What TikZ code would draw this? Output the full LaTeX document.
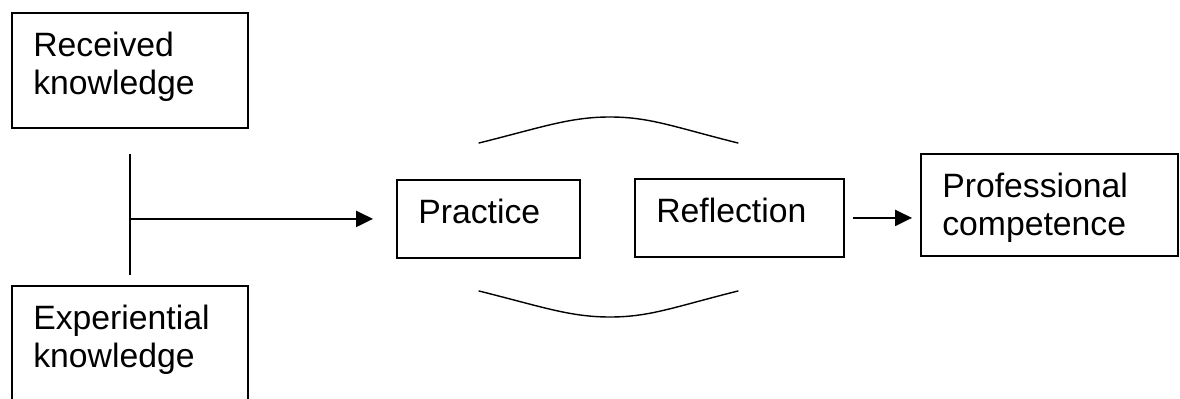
\documentclass[tikz,border=0pt]{standalone}
\usepackage{fontspec}
\setmainfont{Liberation Sans}
\usetikzlibrary{arrows.meta}

\begin{document}
\begin{tikzpicture}[line join=miter,
  box/.style={draw, line width=1.3pt, anchor=north west, inner sep=0pt},
  txt/.style={anchor=north west, align=left, inner sep=0pt, font=\fontsize{24pt}{27pt}\selectfont},
  arr/.style={line width=1.2pt, -{Triangle[length=0.42cm,width=0.4cm]}},
  bow/.style={line width=1pt, line cap=round}]
  \useasboundingbox (0,0) rectangle (29.5,9.95);
  \clip (0,0) rectangle (29.5,9.95);
  % boxes
  \node[box, minimum width=5.9cm, minimum height=2.875cm] (rk) at (0.275,9.65) {};
  \node[box, minimum width=5.9cm, minimum height=2.875cm] (ek) at (0.275,2.825) {};
  \node[box, minimum width=4.575cm, minimum height=1.95cm] (prac) at (9.9,5.475) {};
  \node[box, minimum width=5.225cm, minimum height=1.95cm] (refl) at (15.85,5.5) {};
  \node[box, minimum width=6.425cm, minimum height=2.55cm] (prof) at (23.0,6.125) {};
  % texts
  \node[txt] (rk-t) at ([shift={(0.55,-0.49)}]rk.north west) {Received\\knowledge};
  \node[txt] (ek-t) at ([shift={(0.55,-0.49)}]ek.north west) {Experiential\\knowledge};
  \node[txt] (prac-t) at ([shift={(0.55,-0.49)}]prac.north west) {Practice};
  \node[txt] (refl-t) at ([shift={(0.55,-0.49)}]refl.north west) {Reflection};
  \node[txt] (prof-t) at ([shift={(0.55,-0.49)}]prof.north west) {Professional\\competence};
  % connectors
  \coordinate (join) at (rk.south |- prac.west);
  \draw[line width=1.2pt] ([yshift=-0.625cm]rk.south) -- ([yshift=0.25cm]ek.north);
  \draw[arr] (join) -- ([xshift=-0.575cm]prac.west);
  \draw[arr] ([xshift=0.2cm]refl.east) -- ([xshift=-0.2cm]prof.west |- refl.east);
  % cycle brackets
  \draw[bow] (11.975,6.375) .. controls (13.575,6.775) and (14.25,7.025) .. (15.25,7.025)
    .. controls (16.25,7.025) and (16.85,6.775) .. (18.45,6.375);
  \draw[bow] (11.975,2.675) .. controls (13.575,2.275) and (14.25,2.025) .. (15.25,2.025)
    .. controls (16.25,2.025) and (16.85,2.275) .. (18.45,2.675);
\end{tikzpicture}
\end{document}
